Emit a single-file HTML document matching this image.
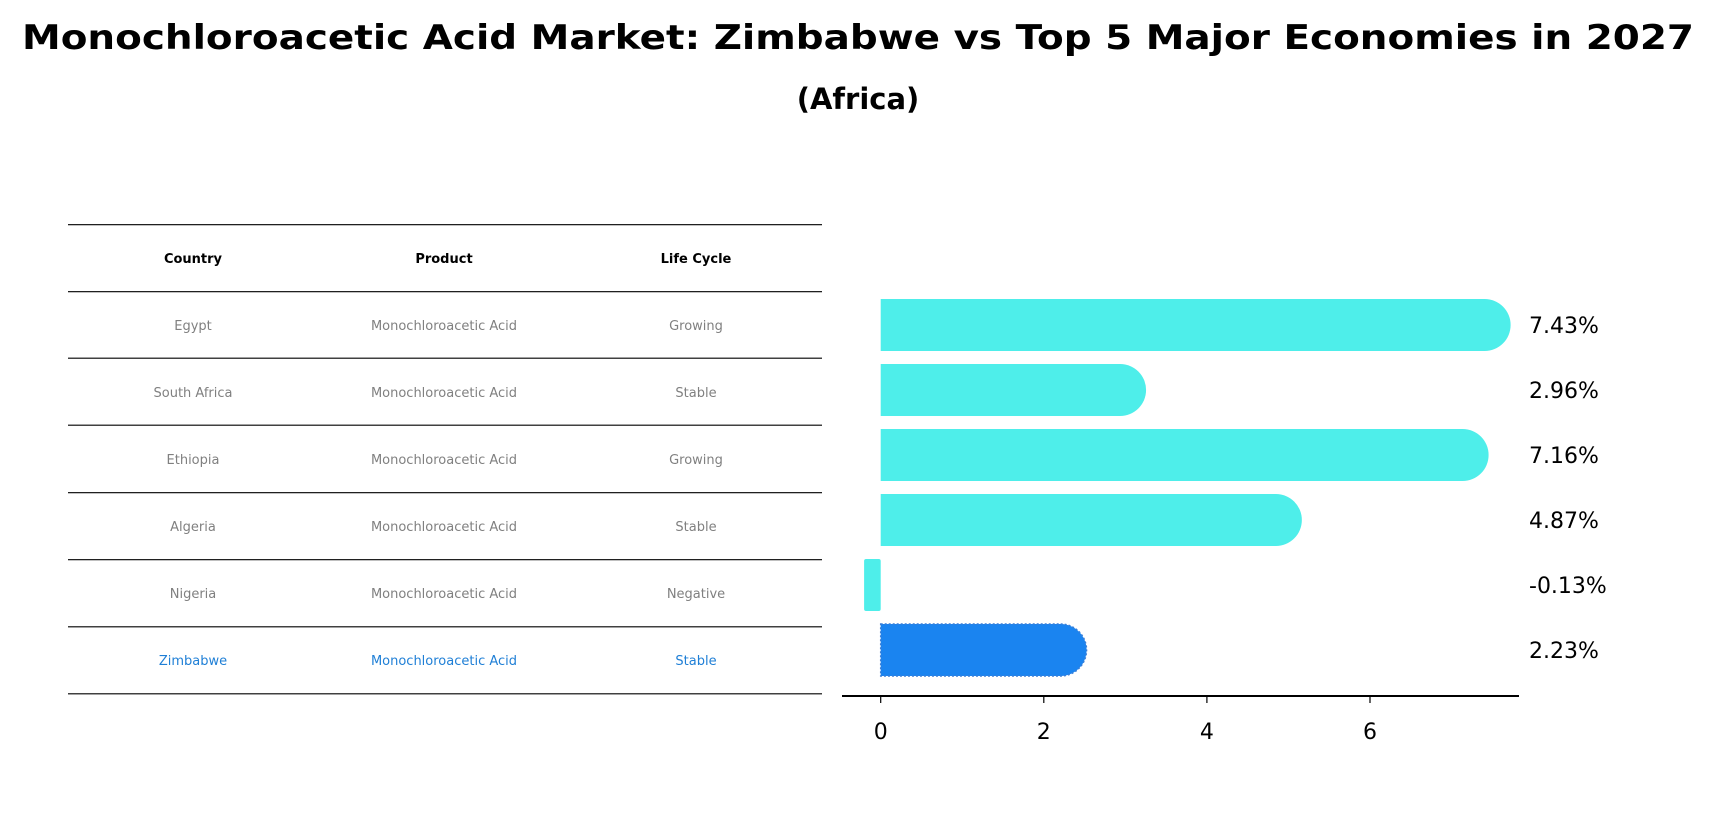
<!DOCTYPE html>
<html><head><meta charset="utf-8"><style>
html,body{margin:0;padding:0;background:#fff;width:1709px;height:823px;overflow:hidden}
svg{display:block;font-family:"DejaVu Sans","Liberation Sans",sans-serif}
</style></head><body>
<svg id="chart" width="1709" height="823" viewBox="0 0 1709 823">
<text x="858" y="49" text-anchor="middle" font-size="34" font-weight="bold" textLength="1672" lengthAdjust="spacingAndGlyphs">Monochloroacetic Acid Market: Zimbabwe vs Top 5 Major Economies in 2027</text>
<text x="858" y="109" text-anchor="middle" font-size="29" font-weight="bold">(Africa)</text>
<g id="table"></g>
<g id="bars"></g>
</svg>
<script>
const countries=["Egypt","South Africa","Ethiopia","Algeria","Nigeria","Zimbabwe"];
const products=["Monochloroacetic Acid","Monochloroacetic Acid","Monochloroacetic Acid","Monochloroacetic Acid","Monochloroacetic Acid","Monochloroacetic Acid"];
const lifeCycles=["Growing","Stable","Growing","Stable","Negative","Stable"];
const growthValues=[7.43,2.96,7.16,4.87,-0.13,2.23];
const valueLabels=["7.43%","2.96%","7.16%","4.87%","-0.13%","2.23%"];
const xTicks=[0,2,4,6];
const highlight="Zimbabwe";

const NS="http://www.w3.org/2000/svg";
function mk(tag,attrs,parent){const e=document.createElementNS(NS,tag);for(const k in attrs)e.setAttribute(k,attrs[k]);parent.appendChild(e);return e;}

// table
const tbl=document.getElementById('table');
const lineYs=[224.7,291.7,358.2,425.2,492.7,559.7,626.8,693.8];
const colX=[193,444,696];
function rowY(i){return 224.7+(i+0.5)*67.0;}
lineYs.forEach((y,i)=>{
 const l=mk('line',{x1:68,x2:822,y1:y,y2:y,stroke:'#000','stroke-width':1.2},tbl);
 
 
});
["Country","Product","Life Cycle"].forEach((h,j)=>{
 const t=mk('text',{x:colX[j],y:rowY(0)+5,'text-anchor':'middle','font-size':13,'font-weight':'bold'},tbl);
 t.textContent=h;
 
 
});
countries.forEach((c,i)=>{
 const col=c===highlight?'#1f7fd6':'#808080';
 [c,products[i],lifeCycles[i]].forEach((v,j)=>{
  const t=mk('text',{x:colX[j],y:rowY(i+1)+5,'text-anchor':'middle','font-size':13,fill:col},tbl);
  t.textContent=v;
  
  
 });
});

// bar chart
const g=document.getElementById('bars');
const x0=880.7, pxPer=81.55;
function xs(v){return x0+v*pxPer;}
function ys(i){return 325+i*65;}
const bh=52, r=26;
growthValues.forEach((v,i)=>{
 const cy=ys(i), top=cy-bh/2;
 const isH=countries[i]===highlight;
 const fill=isH?'#1a84f0':'#4eeeea';
 let el;
 if(v>0){
  const xe=xs(v)-2;
  el=mk('path',{d:`M${x0},${top} H${xe} A${r},${r} 0 0 1 ${xe},${top+bh} H${x0} Z`,fill:fill},g);
  if(isH){el.setAttribute('stroke','#3a7fd8');el.setAttribute('stroke-dasharray','2,2');el.setAttribute('stroke-width','1.5');}
 } else {
  el=mk('rect',{x:xs(v)-6,y:top,width:x0-xs(v)+6,height:bh,fill:fill,rx:2},g);
 }
 
 
 const t=mk('text',{x:1529,y:cy+8,'font-size':22,fill:'#000'},g);
 t.textContent=valueLabels[i];
 
 
});
const ax=mk('line',{x1:842,x2:1519,y1:696,y2:696,stroke:'#000','stroke-width':2},g);


xTicks.forEach(v=>{
 const tk=mk('line',{x1:xs(v),x2:xs(v),y1:696,y2:703,stroke:'#000','stroke-width':1.2},g);
 
 
 const t=mk('text',{x:xs(v),y:739,'text-anchor':'middle','font-size':22},g);
 t.textContent=v;
 
 
});
</script>
</body></html>
